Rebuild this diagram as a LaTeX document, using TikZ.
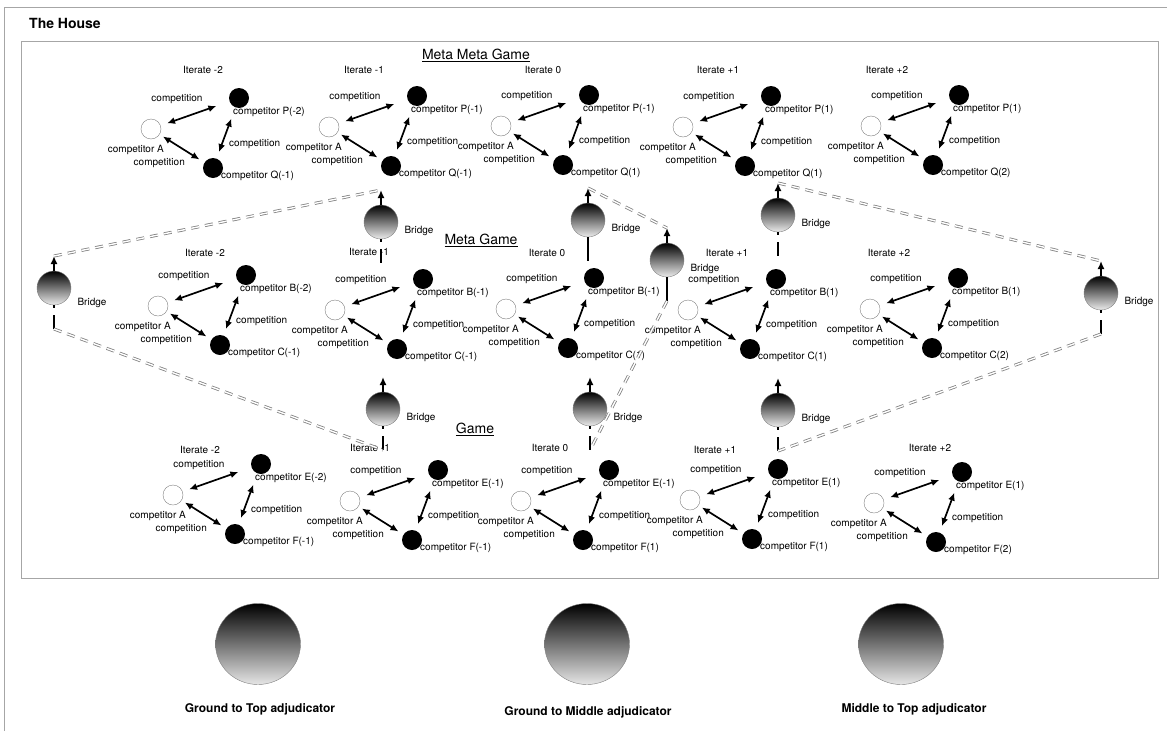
\documentclass[tikz,border=0pt]{standalone}
\usepackage{fontspec}
\setmainfont{TeX Gyre Heros}
\usetikzlibrary{arrows.meta,shapes.geometric}

\tikzset{
  player/.style={circle, draw=gray, thin, fill=white, minimum size=20pt, inner sep=0pt, outer sep=0pt},
  rival/.style={circle, fill=black, minimum size=20pt, inner sep=0pt, outer sep=0pt},
  tag/.style={font=\fontsize{10}{12}\selectfont, inner sep=0pt},
  heading/.style={font=\fontsize{14}{16}\selectfont, inner sep=0pt},
  duel/.style={line width=1.7pt, {Latex[length=8pt,width=7pt]}-{Latex[length=8pt,width=7pt]}},
  bridge/.style={circle, draw=gray, thin, top color=black, bottom color=gray!15, minimum size=34pt, inner sep=0pt, outer sep=0pt},
  lift/.style={line width=1.7pt, -{Latex[length=8pt,width=7pt]}},
  stem/.style={line width=1.7pt},
  link/.style={draw=gray, line width=0.8pt, double=white, double distance=1.4pt, dash pattern=on 8pt off 6pt},
  judge/.style={ellipse, draw=gray, thin, top color=black, bottom color=gray!20, minimum width=85pt, minimum height=81pt},
  frame/.style={draw=gray!70, line width=0.8pt}
}

% #1 prefix, #2 competitor A, #3 upper rival, #4 lower rival, #5 iterate, #6 where the iterate sits
\newcommand{\CompetitionTriad}[6]{%
  \node[player] (#1a) at (#2) {};
  \node[rival] (#1p) at ([shift={(88,-31)}]#1a) {};
  \node[rival] (#1q) at ([shift={(62,39)}]#1a) {};
  \node[tag, anchor=east] (#1la) at ([shift={(13,21)}]#1a) {competitor A};
  \node[tag, anchor=west] (#1lp) at ([shift={(-6,14)}]#1p) {#3};
  \node[tag, anchor=west] (#1lq) at ([shift={(8,8)}]#1q) {#4};
  \node[tag] (#1ap) at ([shift={(26,-30)}]#1a) {competition};
  \node[tag, anchor=west] (#1pq) at ([shift={(78,15)}]#1a) {competition};
  \node[tag, anchor=east] (#1aq) at ([shift={(34,34)}]#1a) {competition};
  \node[tag] (#1it) at (#6) {#5};
  \draw[duel, shorten <=7pt, shorten >=14pt] (#1a) -- (#1p);
  \draw[duel, shorten <=12pt, shorten >=7pt] (#1p) -- (#1q);
  \draw[duel, shorten <=4pt, shorten >=6pt] (#1a) -- (#1q);
}

% #1 name, #2 centre
\newcommand{\Bridge}[2]{%
  \node[bridge] (#1) at (#2) {};
  \coordinate (#1top) at ([shift={(0,-32)}]#1);
  \coordinate (#1knee) at ([shift={(0,27)}]#1);
  \coordinate (#1foot) at ([shift={(0,41)}]#1);
  \draw[lift] (#1.north) -- (#1top);
  \draw[stem] (#1.south) -- ++(0,3);
  \draw[stem] (#1knee) -- (#1foot);
}

\begin{document}
\begin{tikzpicture}[x=1pt, y=-1pt]
  \useasboundingbox (0,0) rectangle (1167,731);
  \draw[frame] (4,731) -- (4,7) -- (1167,7);
  \draw[frame] (21,41) rectangle (1158,578);
  \node[font=\bfseries\fontsize{14}{16}\selectfont, anchor=west, inner sep=0pt] (house) at (29,23) {The House};

  % levels
  \node[heading] (metameta) at (476,55) {\underline{Meta Meta Game}};
  \node[heading] (meta) at (481,240) {\underline{Meta Game}};
  \node[heading] (game) at (475,429) {\underline{Game}};

  % meta meta game
  \CompetitionTriad{t1}{151,129}{competitor P(-2)}{competitor Q(-1)}{Iterate -2}{203,70}
  \CompetitionTriad{t2}{329,127}{competitor P(-1)}{competitor Q(-1)}{Iterate -1}{364,70}
  \CompetitionTriad{t3}{501,126}{competitor P(-1)}{competitor Q(1)}{Iterate 0}{543,70}
  \CompetitionTriad{t4}{683,127}{competitor P(1)}{competitor Q(1)}{Iterate +1}{718,70}
  \CompetitionTriad{t5}{871,126}{competitor P(1)}{competitor Q(2)}{Iterate +2}{887,70}

  % meta game
  \CompetitionTriad{m1}{158,306}{competitor B(-2)}{competitor C(-1)}{Iterate -2}{205,253}
  \CompetitionTriad{m2}{335,310}{competitor B(-1)}{competitor C(-1)}{Iterate -1}{369,252}
  \CompetitionTriad{m3}{506,309}{competitor B(-1)}{competitor C(1)}{Iterate 0}{547,253}
  \CompetitionTriad{m4}{688,310}{competitor B(1)}{competitor C(1)}{Iterate +1}{727,253}
  \CompetitionTriad{m5}{870,309}{competitor B(1)}{competitor C(2)}{Iterate +2}{889,253}

  % game
  \CompetitionTriad{g1}{173,495}{competitor E(-2)}{competitor F(-1)}{Iterate -2}{200,450}
  \CompetitionTriad{g2}{350,501}{competitor E(-1)}{competitor F(-1)}{Iterate -1}{370,448}
  \CompetitionTriad{g3}{521,501}{competitor E(-1)}{competitor F(1)}{Iterate 0}{550,448}
  \CompetitionTriad{g4}{690,500}{competitor E(1)}{competitor F(1)}{Iterate +1}{715,450}
  \CompetitionTriad{g5}{874,503}{competitor E(1)}{competitor F(2)}{Iterate +2}{930,448}

  % bridges
  \Bridge{b1}{381,222}
  \Bridge{b2}{54,288}
  \Bridge{b3}{588,220}
  \Bridge{b4}{667,260}
  \Bridge{b5}{778,215}
  \Bridge{b6}{1101,293}
  \Bridge{b7}{383,409}
  \Bridge{b8}{590,409}
  \Bridge{b9}{778,410}
  \draw[stem] (b3.south) -- (b3foot);
  \draw[stem] (b4.south) -- (b4foot);
  \node[tag] (b1tag) at ([shift={(38,9)}]b1) {Bridge};
  \node[tag] (b2tag) at ([shift={(38,15)}]b2) {Bridge};
  \node[tag] (b3tag) at ([shift={(38,9)}]b3) {Bridge};
  \node[tag] (b4tag) at ([shift={(38,9)}]b4) {Bridge};
  \node[tag] (b5tag) at ([shift={(38,9)}]b5) {Bridge};
  \node[tag] (b6tag) at ([shift={(38,9)}]b6) {Bridge};
  \node[tag] (b7tag) at ([shift={(38,9)}]b7) {Bridge};
  \node[tag] (b8tag) at ([shift={(38,9)}]b8) {Bridge};
  \node[tag] (b9tag) at ([shift={(38,9)}]b9) {Bridge};

  \draw[link] (b2top) -- (b1top);
  \draw[link] (b2foot) -- (b7foot);
  \draw[link] (b3top) -- (b4top);
  \draw[link] (b4foot) -- (b8foot);
  \draw[link] (b5top) -- (b6top);
  \draw[link] (b6foot) -- (b9foot);

  % adjudicators
  \node[judge] (j1) at (258,644) {};
  \node[judge] (j2) at (587,644) {};
  \node[judge] (j3) at (901,644) {};
  \node[font=\bfseries\fontsize{12}{14}\selectfont, inner sep=0pt] (j1tag) at (260,709) {Ground to Top adjudicator};
  \node[font=\bfseries\fontsize{12}{14}\selectfont, inner sep=0pt] (j2tag) at (588,712) {Ground to Middle adjudicator};
  \node[font=\bfseries\fontsize{12}{14}\selectfont, inner sep=0pt] (j3tag) at (914,709) {Middle to Top adjudicator};
\end{tikzpicture}
\end{document}
